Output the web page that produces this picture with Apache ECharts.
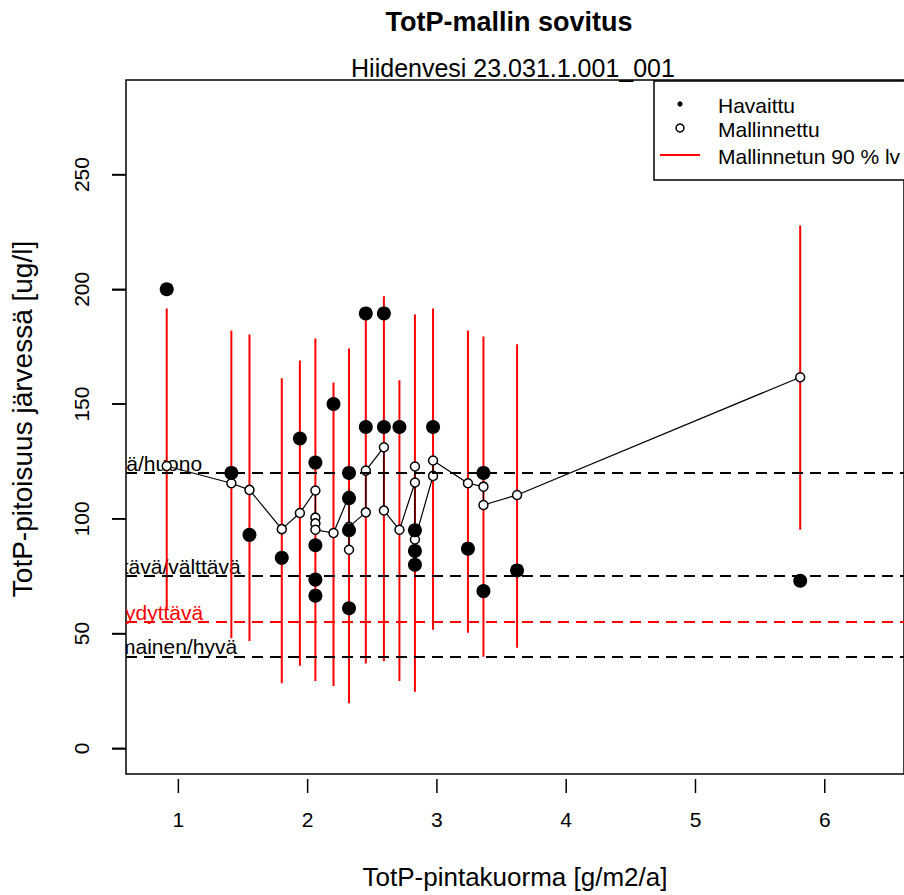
<!DOCTYPE html>
<html><head><meta charset="utf-8">
<script src="https://cdn.jsdelivr.net/npm/echarts@6/dist/echarts.min.js"></script>
<style>html,body{margin:0;padding:0;background:#fff}#c{width:904px;height:895px}</style>
</head><body><div id="c"></div>
<script>
// 90 % intervals of the modelled concentration
const ciX    = [0.91, 1.41, 1.55, 1.80, 1.94, 2.06, 2.20, 2.32, 2.45, 2.59, 2.71, 2.83, 2.97, 3.24, 3.36, 3.62, 5.81];
const ciLow  = [60.4, 48.0, 46.7, 28.3, 36.0, 29.3, 27.1, 19.6, 37.0, 38.0, 29.3, 24.6, 51.7, 50.3, 39.9, 43.8, 95.2];
const ciHigh = [191.6, 182.0, 180.3, 161.2, 169.0, 178.6, 159.4, 174.2, 189.0, 197.0, 160.4, 189.0, 191.6, 182.0, 179.4, 176.1, 227.8];
// modelled (Mallinnettu)
const modX = [0.91, 1.41, 1.55, 1.80, 1.94, 2.06, 2.06, 2.06, 2.06, 2.20, 2.32, 2.32, 2.32, 2.45, 2.45, 2.59, 2.59, 2.71, 2.83, 2.83, 2.83, 2.97, 2.97, 3.24, 3.36, 3.36, 3.62, 5.81];
const modY = [123, 115.5, 112.6, 95.5, 102.5, 112.3, 100.5, 98, 95.2, 93.8, 110, 86.5, 96.5, 102.8, 121, 131.2, 103.6, 95.2, 115.8, 122.8, 91, 118.7, 125.4, 115.5, 114, 106, 110.4, 161.7];
// observed (Havaittu)
const obsX = [0.91, 1.41, 1.55, 1.80, 1.94, 2.06, 2.06, 2.06, 2.06, 2.20, 2.32, 2.32, 2.32, 2.32, 2.45, 2.45, 2.59, 2.59, 2.71, 2.83, 2.83, 2.83, 2.97, 3.24, 3.36, 3.36, 3.62, 5.81];
const obsY = [200, 120, 93, 83, 135, 124.5, 88.5, 73.5, 66.5, 150, 120, 109, 95, 61, 189.5, 140, 189.5, 140, 140, 95, 86, 80, 140, 87, 120, 68.5, 77.5, 73];
// class limits
const classLimits = [120, 75, 55, 40];
const classNames  = ['Välttävä/huono', 'Tyydyttävä/välttävä', 'Hyvä/tyydyttävä', 'Erinomainen/hyvä'];
const classColors = ['#000000', '#000000', '#ff0000', '#000000'];
const xTicks = [1, 2, 3, 4, 5, 6];
const yTicks = [0, 50, 100, 150, 200, 250];

// styling (pixel shifts of the clipped class labels)
const labelShift = [-64, -64, -71, -57];

const FONT = '"Liberation Sans", Arial, sans-serif';
const X_MIN = 0.595, X_MAX = 6.613, Y_MIN = -11.2, Y_MAX = 291.2;

const chart = echarts.init(document.getElementById('c'), null, {renderer: 'svg'});
const ciData = ciX.map((x, i) => [x, ciLow[i], ciHigh[i]]);
const modData = modX.map((x, i) => [x, modY[i]]);
const obsData = obsX.map((x, i) => [x, obsY[i]]);
const classData = classLimits.map((v, i) => [X_MIN, v, i]);
const xTickData = xTicks.map(v => [v, Y_MIN]);
const yTickData = yTicks.map(v => [X_MIN, v]);

chart.setOption({
  animation: false,
  backgroundColor: '#fff',
  textStyle: {fontFamily: FONT},
  grid: {left: 126, top: 80, right: -2, bottom: 119, show: true, borderColor: '#000', borderWidth: 1.5, backgroundColor: 'transparent'},
  xAxis: {
    type: 'value', min: X_MIN, max: X_MAX, position: 'bottom', offset: 4,
    name: 'TotP-pintakuorma [g/m2/a]', nameLocation: 'middle', nameGap: 86,
    nameTextStyle: {fontSize: 26, color: '#000', fontFamily: FONT},
    axisLine: {show: false, onZeroAxisIndex: 9},
    axisTick: {show: false},
    axisLabel: {customValues: xTicks, fontSize: 21, color: '#000', margin: 31, fontFamily: FONT},
    splitLine: {show: false}
  },
  yAxis: {
    type: 'value', min: Y_MIN, max: Y_MAX, position: 'left',
    name: 'TotP-pitoisuus järvessä [ug/l]', nameLocation: 'middle', nameGap: 90, nameRotate: 90,
    nameTextStyle: {fontSize: 28, color: '#000', fontFamily: FONT, padding: [0, 0, 0, 16]},
    axisLine: {show: false},
    axisTick: {show: true, customValues: yTicks, length: 14, inside: false, lineStyle: {color: '#000', width: 1.5}},
    axisLabel: {customValues: yTicks, rotate: 90, fontSize: 21, color: '#000', margin: 34, fontFamily: FONT},
    splitLine: {show: false}
  },
  graphic: [
    {type: 'text', x: 509, y: 22, style: {text: 'TotP-mallin sovitus', font: 'bold 27px ' + FONT, fill: '#000', textAlign: 'center', textVerticalAlign: 'middle'}},
    {type: 'text', x: 513, y: 68, style: {text: 'Hiidenvesi 23.031.1.001_001', font: '25px ' + FONT, fill: '#000', textAlign: 'center', textVerticalAlign: 'middle'}},
    {type: 'group', z: 100, children: [
      {type: 'rect', shape: {x: 654, y: 81, width: 260, height: 99}, style: {fill: '#fff', stroke: '#000', lineWidth: 1.5}},
      {type: 'circle', shape: {cx: 680, cy: 104, r: 2.6}, style: {fill: '#000'}},
      {type: 'circle', shape: {cx: 680, cy: 128, r: 4}, style: {fill: 'none', stroke: '#000', lineWidth: 1.5}},
      {type: 'line', shape: {x1: 660, y1: 155, x2: 700, y2: 155}, style: {stroke: '#ff0000', lineWidth: 2}},
      {type: 'text', x: 718, y: 105, style: {text: 'Havaittu', font: '21px ' + FONT, fill: '#000', textVerticalAlign: 'middle'}},
      {type: 'text', x: 718, y: 129, style: {text: 'Mallinnettu', font: '21px ' + FONT, fill: '#000', textVerticalAlign: 'middle'}},
      {type: 'text', x: 718, y: 156, style: {text: 'Mallinnetun 90 % lv', font: '21px ' + FONT, fill: '#000', textVerticalAlign: 'middle'}}
    ]}
  ],
  series: [
    {
      name: 'x-akselin merkit', type: 'custom', clip: false, z: 10, silent: true,
      data: xTickData,
      renderItem: function (params, api) {
        const p = api.coord([api.value(0), api.value(1)]);
        return {type: 'line', shape: {x1: p[0], y1: p[1] + 5, x2: p[0], y2: p[1] + 19}, style: {stroke: '#000', lineWidth: 1.5}};
      }
    },
    {
      name: 'y-akselin merkit', type: 'custom', clip: false, z: 10, silent: true,
      data: yTickData,
      renderItem: function (params, api) {
        const p = api.coord([api.value(0), api.value(1)]);
        return {type: 'rect', shape: {x: p[0] - 14, y: p[1] - 0.75, width: 14, height: 1.5}, style: {fill: '#000'}};
      }
    },
    {
      name: 'Luokkarajat', type: 'custom', clip: true, z: 1, silent: true,
      data: classData,
      renderItem: function (params, api) {
        const p = api.coord([api.value(0), api.value(1)]);
        const i = api.value(2);
        return {type: 'text', x: p[0] + labelShift[i], y: p[1] + 1,
          style: {text: classNames[i], fill: classColors[i], font: '21px ' + FONT, textAlign: 'left', textVerticalAlign: 'bottom'}};
      },
      markLine: {
        silent: true, symbol: 'none', label: {show: false},
        lineStyle: {type: [11, 7], width: 2},
        data: classLimits.map((v, i) => ({yAxis: v, lineStyle: {color: classColors[i], type: [11, 7], width: 2}}))
      }
    },
    {
      name: 'Mallinnetun 90 % lv', type: 'custom', z: 2,
      data: ciData,
      encode: {x: 0, y: [1, 2]},
      renderItem: function (params, api) {
        const a = api.coord([api.value(0), api.value(1)]);
        const b = api.coord([api.value(0), api.value(2)]);
        return {type: 'line', shape: {x1: a[0], y1: a[1], x2: b[0], y2: b[1]}, style: {stroke: '#ff0000', lineWidth: 2}};
      }
    },
    {
      name: 'Mallinnettu', type: 'line', z: 3,
      data: modData,
      symbol: 'circle', symbolSize: 9,
      itemStyle: {color: '#fff', borderColor: '#000', borderWidth: 1.5},
      lineStyle: {color: '#000', width: 1.2}
    },
    {
      name: 'Havaittu', type: 'scatter', z: 4,
      data: obsData,
      symbol: 'circle', symbolSize: 14,
      itemStyle: {color: '#000', opacity: 1}
    }
  ]
});
</script>
</body></html>
